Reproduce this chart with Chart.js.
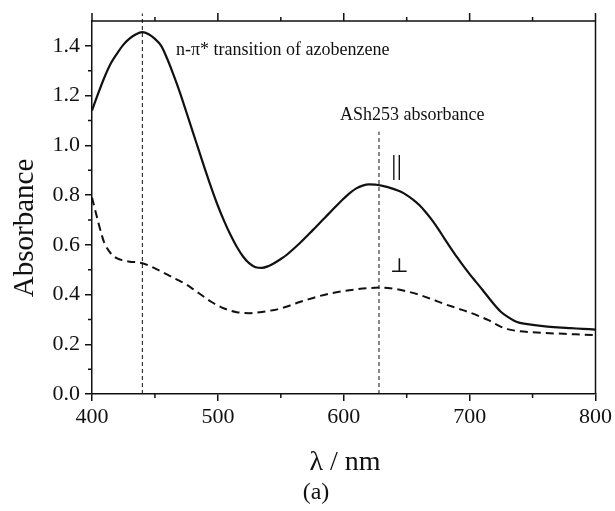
<!DOCTYPE html>
<html>
<head>
<meta charset="utf-8">
<script src="https://cdn.jsdelivr.net/npm/chart.js@4/dist/chart.umd.min.js"></script>
<style>
  html, body { margin: 0; padding: 0; background: #fff; }
  canvas { display: block; }
</style>
</head>
<body>
<canvas id="chart" width="615" height="511"></canvas>
<script>
/* =============== Data =============== */
// parallel polarisation (solid)
const parLambda = [400,405,410,415,420,425,430,435,440,445,450,455,460,465,470,475,480,485,490,495,
  500,505,510,515,520,525,530,535,540,545,550,555,560,565,570,575,580,585,590,595,
  600,605,610,615,620,625,630,635,640,645,650,655,660,665,670,675,680,685,690,695,
  700,705,710,715,720,725,730,735,740,750,760,770,780,790,800];
const parAbs = [1.14,1.21,1.275,1.33,1.37,1.405,1.43,1.447,1.455,1.447,1.428,1.40,1.345,1.28,1.21,1.133,1.055,0.978,0.90,0.826,
  0.757,0.695,0.64,0.592,0.553,0.525,0.51,0.507,0.514,0.527,0.543,0.561,0.583,0.606,0.631,0.657,0.683,0.709,0.735,0.761,
  0.786,0.809,0.827,0.838,0.843,0.842,0.838,0.832,0.824,0.814,0.80,0.782,0.76,0.732,0.70,0.664,0.625,0.587,0.55,0.515,
  0.482,0.451,0.42,0.388,0.357,0.33,0.311,0.296,0.286,0.278,0.272,0.268,0.265,0.262,0.259];

// perpendicular polarisation (dashed)
const perpLambda = [400,403,405,408,410,415,420,425,430,435,440,445,450,455,460,465,470,475,480,485,490,495,
  500,505,510,515,520,525,530,535,540,545,550,555,560,565,570,580,590,600,610,620,630,640,650,660,670,680,690,
  700,710,715,720,725,730,740,750,760,770,780,790,800];
const perpAbs = [0.79,0.73,0.69,0.635,0.605,0.565,0.545,0.537,0.532,0.53,0.526,0.517,0.505,0.493,0.48,0.466,0.454,0.44,0.423,0.405,0.387,0.37,
  0.356,0.344,0.335,0.329,0.326,0.325,0.327,0.33,0.334,0.338,0.344,0.352,0.361,0.37,0.378,0.393,0.405,0.414,0.421,0.426,0.428,0.423,0.413,0.399,0.381,0.362,0.345,
  0.328,0.308,0.297,0.283,0.27,0.261,0.252,0.248,0.245,0.243,0.241,0.239,0.237];

// marker lines (n-pi* at 440 nm, dye absorbance at ~628 nm)
const markerLambda = [440, 628];
const markerTop = [1.53, 1.055];

// ticks
const xTicks = [400, 500, 600, 700, 800];
const xMinor = [450, 550, 650, 750];
const yTicks = [0.0, 0.2, 0.4, 0.6, 0.8, 1.0, 1.2, 1.4];
const yMinor = [0.1, 0.3, 0.5, 0.7, 0.9, 1.1, 1.3];

/* =============== Helpers =============== */
const pts = (xs, ys) => xs.map((x, i) => ({ x, y: ys[i] }));
const FONT = "'Liberation Serif', 'Times New Roman', serif";
const INK = "#111";

/* =============== Decorations plugin =============== */
const decor = {
  id: "decor",
  afterDraw(chart) {
    const { ctx, chartArea: a, scales: { x, y } } = chart;
    ctx.save();
    ctx.strokeStyle = INK;
    ctx.lineWidth = 1.5;

    // frame: top + right
    ctx.beginPath();
    ctx.moveTo(a.left, a.top); ctx.lineTo(a.right, a.top);
    ctx.moveTo(a.right, a.top); ctx.lineTo(a.right, a.bottom);
    ctx.stroke();

    // top ticks (outward) and minor ticks
    ctx.beginPath();
    for (const v of xTicks) {
      const px = x.getPixelForValue(v);
      ctx.moveTo(px, a.top); ctx.lineTo(px, a.top - 8);
    }
    for (const v of xMinor) {
      const px = x.getPixelForValue(v);
      ctx.moveTo(px, a.top); ctx.lineTo(px, a.top - 4);
      ctx.moveTo(px, a.bottom); ctx.lineTo(px, a.bottom + 4);
    }
    for (const v of yMinor) {
      const py = y.getPixelForValue(v);
      ctx.moveTo(a.left, py); ctx.lineTo(a.left - 4, py);
    }
    ctx.stroke();

    // annotations
    ctx.fillStyle = INK;
    ctx.textBaseline = "alphabetic";
    ctx.textAlign = "left";
    ctx.font = "18px " + FONT;
    ctx.fillText("n-\u03c0* transition of azobenzene", 176, 55);
    ctx.fillText("ASh253 absorbance", 340, 120);

    ctx.font = "28px " + FONT;
    ctx.fillText("||", 391, 174);
    ctx.font = "20px 'DejaVu Serif', serif";
    ctx.fillText("\u22a5", 390, 272);

    // axis titles
    ctx.textAlign = "center";
    ctx.font = "28px " + FONT;
    ctx.fillText("\u03bb / nm", 345, 470);
    ctx.font = "24px " + FONT;
    ctx.fillText("(a)", 316, 499);

    ctx.save();
    ctx.translate(33, 228);
    ctx.rotate(-Math.PI / 2);
    ctx.font = "29px " + FONT;
    ctx.fillText("Absorbance", 0, 0);
    ctx.restore();

    ctx.restore();
  }
};

/* =============== Chart =============== */
const markerSets = markerLambda.map((l, i) => ({
  data: [{ x: l, y: 0 }, { x: l, y: markerTop[i] }],
  borderColor: INK,
  borderWidth: 1,
  borderDash: [4, 3],
  pointRadius: 0,
  clip: false
}));

new Chart(document.getElementById("chart"), {
  type: "line",
  data: {
    datasets: [
      {
        data: pts(parLambda, parAbs),
        borderColor: INK,
        borderWidth: 2.2,
        pointRadius: 0,
        cubicInterpolationMode: "monotone"
      },
      {
        data: pts(perpLambda, perpAbs),
        borderColor: INK,
        borderWidth: 2,
        borderDash: [8, 5],
        pointRadius: 0,
        cubicInterpolationMode: "monotone"
      },
      ...markerSets
    ]
  },
  options: {
    responsive: false,
    animation: false,
    layout: { padding: { top: 21, right: 18, left: 0, bottom: 0 } },
    plugins: { legend: { display: false }, tooltip: { enabled: false } },
    scales: {
      x: {
        type: "linear",
        min: 400,
        max: 800,
        afterBuildTicks: (s) => { s.ticks = xTicks.map(v => ({ value: v })); },
        afterFit: (s) => { s.height = 117; },
        grid: { drawOnChartArea: false, tickLength: 7, color: INK, lineWidth: 1.5 },
        border: { color: INK, width: 1.5 },
        ticks: { color: INK, font: { family: FONT, size: 22 }, padding: 3, maxRotation: 0 }
      },
      y: {
        min: 0,
        max: 1.5,
        afterBuildTicks: (s) => { s.ticks = yTicks.map(v => ({ value: v })); },
        afterFit: (s) => { s.width = 92; },
        grid: { drawOnChartArea: false, tickLength: 7, color: INK, lineWidth: 1.5 },
        border: { color: INK, width: 1.5 },
        ticks: {
          color: INK,
          font: { family: FONT, size: 22 },
          padding: 5,
          callback: (v) => Number(v).toFixed(1)
        }
      }
    }
  },
  plugins: [decor]
});
</script>
</body>
</html>
